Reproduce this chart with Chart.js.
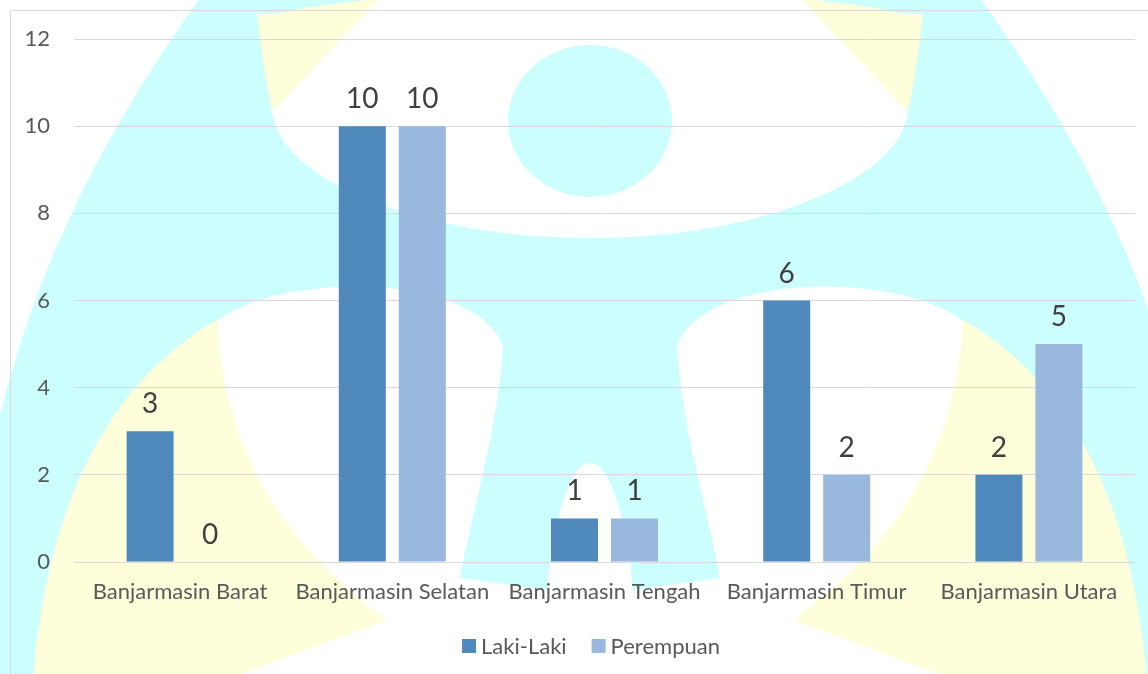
<!DOCTYPE html>
<html>
<head>
<meta charset="utf-8">
<script src="https://cdn.jsdelivr.net/npm/chart.js@4.4.1/dist/chart.umd.min.js"></script>
<style>
  html, body { margin: 0; padding: 0; background: #fff; }
  #wrap { width: 1148px; height: 674px; }
</style>
</head>
<body>
<div id="wrap"><canvas id="myChart" width="1148" height="674"></canvas></div>
<script>
var categories = ["Banjarmasin Barat", "Banjarmasin Selatan", "Banjarmasin Tengah", "Banjarmasin Timur", "Banjarmasin Utara"];
var lakiLaki = [3, 10, 1, 6, 2];
var perempuan = [0, 10, 1, 2, 5];
var seriesNames = ["Laki-Laki", "Perempuan"];
var yMin = 0, yMax = 12, yStep = 2;

var CYAN = "#cdfefe";
var YELLOW = "#fefedb";
var FONT = "Lato, 'Open Sans', sans-serif";

// faint logo watermark behind the chart, left half drawn then mirrored
function drawHalf(ctx) {
  // yellow top wedge
  ctx.fillStyle = YELLOW;
  ctx.beginPath();
  ctx.moveTo(257, 14);
  ctx.lineTo(380, -2);
  ctx.lineTo(272, 112);
  ctx.quadraticCurveTo(262, 60, 257, 14);
  ctx.fill();

  // white lower arch + notch
  ctx.fillStyle = "#fff";
  ctx.beginPath();
  ctx.moveTo(216, 322);
  ctx.bezierCurveTo(270, 275, 470, 268, 503, 345);
  ctx.bezierCurveTo(500, 420, 470, 520, 460, 578);
  ctx.lineTo(547, 590);
  ctx.lineTo(550, 560);
  ctx.quadraticCurveTo(566, 463, 590, 463);
  ctx.lineTo(590, 680);
  ctx.lineTo(216, 680);
  ctx.closePath();
  ctx.fill();

  // yellow lower wing
  ctx.fillStyle = YELLOW;
  ctx.beginPath();
  ctx.moveTo(217, 320);
  ctx.bezierCurveTo(130, 370, 50, 470, 33, 680);
  ctx.lineTo(225, 680);
  ctx.lineTo(387, 620);
  ctx.bezierCurveTo(300, 555, 225, 470, 217, 320);
  ctx.fill();

  // cyan blob at the very top
  ctx.fillStyle = CYAN;
  ctx.beginPath();
  ctx.ellipse(262, -30, 82, 44, 0, 0, Math.PI * 2);
  ctx.fill();
}

var watermark = {
  id: "watermark",
  beforeDraw: function (chart) {
    var ctx = chart.ctx;
    ctx.save();
    ctx.fillStyle = "#fff";
    ctx.fillRect(0, 0, chart.width, chart.height);

    // cyan bell
    ctx.fillStyle = CYAN;
    ctx.beginPath();
    ctx.moveTo(200, -2);
    ctx.bezierCurveTo(120, 110, 30, 260, -10, 460);
    ctx.lineTo(-10, 680);
    ctx.lineTo(1190, 680);
    ctx.lineTo(1190, 460);
    ctx.bezierCurveTo(1150, 260, 1060, 110, 980, -2);
    ctx.closePath();
    ctx.fill();

    // white upper U
    ctx.fillStyle = "#fff";
    ctx.beginPath();
    ctx.moveTo(272, 112);
    ctx.bezierCurveTo(280, 180, 420, 238, 590, 238);
    ctx.bezierCurveTo(760, 238, 900, 180, 908, 112);
    ctx.lineTo(800, -2);
    ctx.lineTo(380, -2);
    ctx.closePath();
    ctx.fill();

    drawHalf(ctx);
    ctx.save();
    ctx.translate(1180, 0);
    ctx.scale(-1, 1);
    drawHalf(ctx);
    ctx.restore();

    // head
    ctx.fillStyle = CYAN;
    ctx.beginPath();
    ctx.ellipse(590, 121, 82, 76, 0, 0, Math.PI * 2);
    ctx.fill();

    // chart frame
    ctx.strokeStyle = "#d9d9d9";
    ctx.lineWidth = 1;
    ctx.strokeRect(10.5, 10.5, 1160, 700);
    ctx.restore();
  }
};

var valueLabels = {
  id: "valueLabels",
  afterDatasetsDraw: function (chart) {
    var ctx = chart.ctx;
    ctx.save();
    ctx.fillStyle = "#404040";
    ctx.font = "28px " + FONT;
    ctx.textAlign = "center";
    ctx.textBaseline = "alphabetic";
    chart.data.datasets.forEach(function (ds, i) {
      chart.getDatasetMeta(i).data.forEach(function (bar, j) {
        ctx.fillText(String(ds.data[j]), bar.x, bar.y - 18);
      });
    });
    ctx.restore();
  }
};

// legend drawn by hand so it can sit where the original one is
var bottomLegend = {
  id: "bottomLegend",
  afterDraw: function (chart) {
    var ctx = chart.ctx;
    ctx.save();
    ctx.font = "22px " + FONT;
    ctx.textBaseline = "middle";
    var box = 14, gap = 5, spacing = 25;
    var items = chart.data.datasets.map(function (ds) {
      return { text: ds.label, color: ds.backgroundColor, w: ctx.measureText(ds.label).width };
    });
    var total = 0;
    items.forEach(function (it, i) { total += box + gap + it.w + (i ? spacing : 0); });
    var x = 591 - total / 2, y = 646;
    items.forEach(function (it) {
      ctx.fillStyle = it.color;
      ctx.fillRect(x, y - box / 2, box, box);
      ctx.fillStyle = "#595959";
      ctx.fillText(it.text, x + box + gap, y + 1);
      x += box + gap + it.w + spacing;
    });
    ctx.restore();
  }
};

var ctx = document.getElementById("myChart").getContext("2d");
var myChart = new Chart(ctx, {
  type: "bar",
  plugins: [watermark, valueLabels, bottomLegend],
  data: {
    labels: categories,
    datasets: [
      {
        label: seriesNames[0],
        data: lakiLaki,
        backgroundColor: "#4f88bb",
        categoryPercentage: 0.5655,
        barPercentage: 0.783,
      },
      {
        label: seriesNames[1],
        data: perempuan,
        backgroundColor: "#98b8de",
        categoryPercentage: 0.5655,
        barPercentage: 0.783,
      },
    ],
  },
  options: {
    responsive: false,
    animation: false,
    layout: { padding: { left: 10, right: 13, top: 39, bottom: 52 } },
    plugins: {
      title: { display: false },
      tooltip: { enabled: false },
      legend: { display: false },
    },
    scales: {
      x: {
        grid: { display: false },
        border: { display: false },
        ticks: {
          color: "#595959",
          padding: 9,
          maxRotation: 0,
          autoSkip: false,
          font: { family: FONT, size: 22 },
        },
        afterFit: function (scale) { scale.height = 60; },
      },
      y: {
        min: yMin,
        max: yMax,
        grid: { color: "#d9d9d9", lineWidth: 1, drawTicks: false },
        border: { display: false },
        ticks: {
          stepSize: yStep,
          color: "#595959",
          padding: 24,
          font: { family: FONT, size: 22 },
        },
        afterFit: function (scale) { scale.width = 64; },
      },
    },
  },
});
</script>
</body>
</html>
